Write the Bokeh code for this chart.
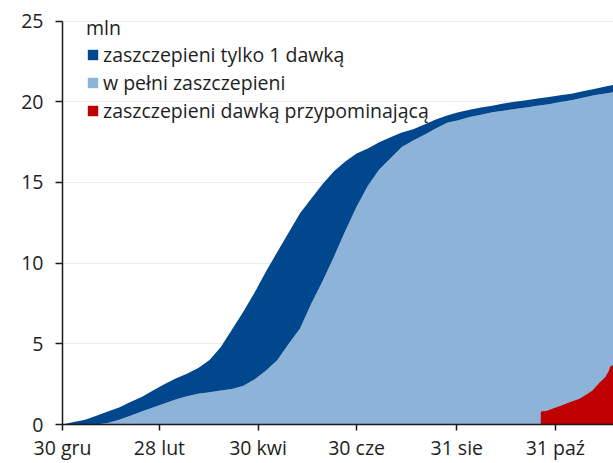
import pandas as pd
from bokeh.plotting import figure
from bokeh.models import FixedTicker, Legend, LegendItem, Range1d
from bokeh.embed import file_html
from bokeh.resources import INLINE

# ---- data (mln people) ----
dates = ["2020-12-30", "2021-01-06", "2021-01-13", "2021-01-20", "2021-01-27",
         "2021-02-03", "2021-02-10", "2021-02-17", "2021-02-24", "2021-03-03",
         "2021-03-10", "2021-03-17", "2021-03-24", "2021-03-31", "2021-04-07",
         "2021-04-14", "2021-04-21", "2021-04-28", "2021-05-05", "2021-05-12",
         "2021-05-19", "2021-05-26", "2021-06-02", "2021-06-09", "2021-06-16",
         "2021-06-23", "2021-06-30", "2021-07-07", "2021-07-14", "2021-07-21",
         "2021-07-28", "2021-08-04", "2021-08-11", "2021-08-18", "2021-08-25",
         "2021-09-01", "2021-09-08", "2021-09-15", "2021-09-22", "2021-09-29",
         "2021-10-06", "2021-10-13", "2021-10-20", "2021-10-27", "2021-11-03",
         "2021-11-10", "2021-11-17", "2021-11-24", "2021-12-01", "2021-12-06"]
at_least_one_dose = [0.0, 0.15, 0.3, 0.55, 0.8, 1.05, 1.4, 1.7, 2.1, 2.5,
                     2.85, 3.15, 3.5, 4.0, 4.8, 5.9, 7.0, 8.2, 9.5, 10.7,
                     11.9, 13.1, 14.0, 14.9, 15.7, 16.3, 16.8, 17.1, 17.5, 17.8,
                     18.1, 18.3, 18.6, 18.9, 19.15, 19.35, 19.5, 19.65, 19.75, 19.9,
                     20.0, 20.1, 20.2, 20.3, 20.4, 20.5, 20.65, 20.8, 20.95, 21.05]
fully_vaccinated = [0.0, 0.0, 0.0, 0.0, 0.1, 0.3, 0.55, 0.8, 1.05, 1.3,
                    1.55, 1.75, 1.9, 2.0, 2.1, 2.2, 2.4, 2.8, 3.35, 4.0,
                    5.0, 5.95, 7.5, 8.9, 10.4, 12.0, 13.5, 14.8, 15.8, 16.5,
                    17.2, 17.6, 17.95, 18.35, 18.7, 18.85, 19.05, 19.2, 19.35, 19.45,
                    19.55, 19.65, 19.75, 19.85, 19.98, 20.1, 20.25, 20.4, 20.52, 20.6]

booster_dates = ["2021-10-22", "2021-10-26", "2021-10-30", "2021-11-03", "2021-11-07",
                 "2021-11-11", "2021-11-15", "2021-11-19", "2021-11-23", "2021-11-27",
                 "2021-12-01", "2021-12-03", "2021-12-04", "2021-12-06"]
booster = [0.8, 0.85, 1.0, 1.15, 1.3, 1.45, 1.6, 1.85, 2.1, 2.55,
           2.95, 3.3, 3.6, 3.7]

tick_dates = ["2020-12-30", "2021-02-28", "2021-04-30", "2021-06-30", "2021-08-31", "2021-10-31"]
tick_labels = ["30 gru", "28 lut", "30 kwi", "30 cze", "31 sie", "31 paź"]
y_ticks = [0, 5, 10, 15, 20, 25]

series_names = ["zaszczepieni tylko 1 dawką", "w pełni zaszczepieni",
                "zaszczepieni dawką przypominającą"]
unit_label = "mln"


def to_ms(ds):
    return [float(v) for v in (pd.to_datetime(ds).astype("int64") // 10**6)]


x = to_ms(dates)
xb = to_ms(booster_dates)
ticks = to_ms(tick_dates)

DARK = "#00478D"
LIGHT = "#8DB3D9"
RED = "#C00000"
FONT = "Open Sans"
TXT = "#1e1e1e"

p = figure(width=613, height=463, output_backend="svg", toolbar_location=None,
           x_range=Range1d(ticks[0], x[-1]), y_range=Range1d(0, 25.41),
           min_border_left=62, min_border_right=0, min_border_top=14,
           min_border_bottom=36)
p.outline_line_color = None
p.background_fill_color = "white"
p.border_fill_color = "white"

r_light = p.varea(x=x, y1=[0] * len(x), y2=fully_vaccinated, fill_color=LIGHT)
r_dark = p.varea(x=x, y1=fully_vaccinated, y2=at_least_one_dose, fill_color=DARK)
r_red = p.varea(x=xb, y1=[0] * len(xb), y2=booster, fill_color=RED)

# axes
p.xaxis.ticker = FixedTicker(ticks=ticks)
p.xaxis.major_label_overrides = {t: lab for t, lab in zip(ticks, tick_labels)}
p.yaxis.ticker = FixedTicker(ticks=y_ticks)
p.yaxis.bounds = (y_ticks[0], y_ticks[-1])
for ax in (p.xaxis[0], p.yaxis[0]):
    ax.axis_line_color = "#1a1a1a"
    ax.axis_line_width = 1.5
    ax.major_tick_line_color = "#1a1a1a"
    ax.major_tick_line_width = 1.5
    ax.major_tick_in = 0
    ax.minor_tick_line_color = None
    ax.major_label_text_font = FONT
    ax.major_label_text_font_size = "19.5px"
    ax.major_label_text_color = TXT
p.xaxis.major_tick_out = 6
p.xaxis.major_label_standoff = 3
p.yaxis.major_tick_out = 7
p.yaxis.major_label_standoff = 12

p.xgrid.grid_line_color = None
p.ygrid.grid_line_color = "#ececec"
p.ygrid.grid_line_width = 1

legend = Legend(items=[LegendItem(label=series_names[0], renderers=[r_dark]),
                       LegendItem(label=series_names[1], renderers=[r_light]),
                       LegendItem(label=series_names[2], renderers=[r_red])],
                location=(24, 300), title=unit_label,
                title_text_font=FONT, title_text_font_size="19.5px",
                title_text_font_style="normal", title_text_color=TXT,
                title_standoff=0,
                label_text_font=FONT, label_text_font_size="19.5px",
                label_text_color=TXT,
                glyph_width=13, glyph_height=13, label_height=20,
                label_standoff=4, spacing=1, padding=0, margin=0,
                border_line_color=None, background_fill_alpha=0)
p.add_layout(legend)

open("out.html", "w").write(file_html(p, INLINE))
